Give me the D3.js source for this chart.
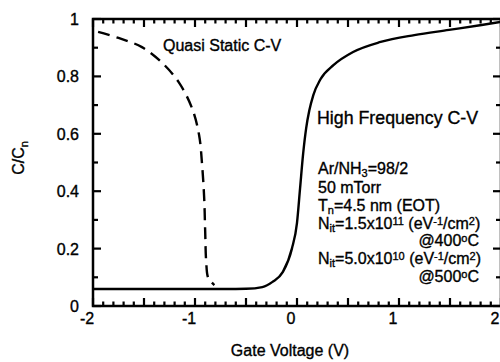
<!DOCTYPE html>
<html>
<head>
<meta charset="utf-8">
<script src="https://cdn.jsdelivr.net/npm/d3@7/dist/d3.min.js"></script>
<style>
  html, body { margin: 0; padding: 0; background: #fff; }
  svg { display: block; font-family: "Liberation Sans", Arial, Helvetica, sans-serif; }
  text { fill: #000; stroke: #000; stroke-width: 0.35px; }
</style>
</head>
<body>
<svg id="chart" width="500" height="362"></svg>
<script>
// High-frequency C-V curve (gate voltage in V, normalized capacitance)
const hfVoltage = [-2.0, -1.5, -1.0, -0.7, -0.5, -0.34, -0.24, -0.14, -0.05, 0.0, 0.03, 0.06, 0.09, 0.12, 0.16, 0.23, 0.36, 0.55, 0.82, 1.15, 1.49, 1.81, 2.0];
const hfCap     = [0.059, 0.059, 0.059, 0.059, 0.060, 0.066, 0.084, 0.118, 0.20, 0.29, 0.41, 0.53, 0.62, 0.68, 0.735, 0.79, 0.84, 0.885, 0.92, 0.944, 0.962, 0.979, 0.99];

// Quasi-static C-V curve
const qsVoltage = [-1.95, -1.75, -1.52, -1.33, -1.16, -1.03, -0.96, -0.93, -0.91, -0.90, -0.89, -0.87, -0.81];
const qsCap     = [0.955, 0.934, 0.902, 0.85, 0.78, 0.69, 0.596, 0.49, 0.376, 0.258, 0.153, 0.098, 0.073];

// Axis ticks
const xTickValues = [-2, -1, 0, 1, 2];
const xTickLabels = ["-2", "-1", "0", "1", "2"];
const yTickValues = [0, 0.2, 0.4, 0.6, 0.8, 1];
const yTickLabels = ["0", "0.2", "0.4", "0.6", "0.8", "1"];

const svg = d3.select("#chart");
const plotL = 93, plotR = 501, plotT = 19, plotB = 306;

const x = d3.scaleLinear().domain([-2, 2]).range([plotL, plotR]);
const y = d3.scaleLinear().domain([0, 1]).range([plotB, plotT]);

// Minor/major tick positions
const xMinor = d3.range(-20, 21).map(d => d / 10);
const yMinor = d3.range(0, 11).map(d => d / 10);
const xLen = v => (Math.abs(v * 2 - Math.round(v * 2)) < 1e-6 ? 8 : 4.5);
const yLen = v => (Math.abs(v * 5 - Math.round(v * 5)) < 1e-6 ? 8 : 5);

// bottom and top ticks pointing inward
svg.append("g").selectAll("line").data(xMinor).join("line")
  .attr("x1", d => x(d)).attr("x2", d => x(d))
  .attr("y1", plotB).attr("y2", d => plotB - xLen(d))
  .attr("stroke", "#000").attr("stroke-width", 2.2);
svg.append("g").selectAll("line").data(xMinor).join("line")
  .attr("x1", d => x(d)).attr("x2", d => x(d))
  .attr("y1", plotT).attr("y2", d => plotT + xLen(d))
  .attr("stroke", "#000").attr("stroke-width", 2.2);
// left and right ticks pointing inward
svg.append("g").selectAll("line").data(yMinor).join("line")
  .attr("y1", d => y(d)).attr("y2", d => y(d))
  .attr("x1", plotL).attr("x2", d => plotL + yLen(d))
  .attr("stroke", "#000").attr("stroke-width", 2.2);
svg.append("g").selectAll("line").data(yMinor).join("line")
  .attr("y1", d => y(d)).attr("y2", d => y(d))
  .attr("x1", plotR).attr("x2", d => plotR - yLen(d))
  .attr("stroke", "#000").attr("stroke-width", 2.2);

// frame
svg.append("rect")
  .attr("x", plotL).attr("y", plotT)
  .attr("width", plotR - plotL).attr("height", plotB - plotT)
  .attr("fill", "none").attr("stroke", "#000").attr("stroke-width", 2.5);

// tick labels
svg.append("g").selectAll("text").data(xTickValues).join("text")
  .attr("x", d => x(d) - 6).attr("y", 324)
  .attr("text-anchor", "middle").attr("font-size", 16)
  .text((d, i) => xTickLabels[i]);

svg.append("g").selectAll("text").data(yTickValues).join("text")
  .attr("x", 79).attr("y", d => y(d) + 6)
  .attr("text-anchor", "end").attr("font-size", 16)
  .text((d, i) => yTickLabels[i]);

// axis titles
svg.append("text").attr("x", 290).attr("y", 356)
  .attr("text-anchor", "middle").attr("font-size", 16).text("Gate Voltage (V)");

const yTitle = svg.append("text")
  .attr("transform", "translate(24,158) rotate(-90)")
  .attr("text-anchor", "middle").attr("font-size", 16);
yTitle.append("tspan").text("C/C");
yTitle.append("tspan").attr("font-size", 11).attr("dy", 4).text("n");

// curves
const hfPath = d3.line().x(d => x(d[0])).y(d => y(d[1])).curve(d3.curveMonotoneX);
const qsPath = d3.line().x(d => x(d[0])).y(d => y(d[1])).curve(d3.curveCatmullRom.alpha(0.5));

svg.append("path")
  .datum(hfVoltage.map((v, i) => [v, hfCap[i]]))
  .attr("d", hfPath).attr("fill", "none").attr("stroke", "#000").attr("stroke-width", 2.4);

svg.append("path")
  .datum(qsVoltage.map((v, i) => [v, qsCap[i]]))
  .attr("d", qsPath).attr("fill", "none").attr("stroke", "#000")
  .attr("stroke-width", 2.4).attr("stroke-dasharray", "12,7");

// curve labels
svg.append("text").attr("x", 163).attr("y", 51).attr("font-size", 16).text("Quasi Static C-V");
svg.append("text").attr("x", 317).attr("y", 124).attr("font-size", 17.8).text("High Frequency C-V");

// process annotations
const fs = 16, sub = 11;
const ann = svg.append("g").attr("font-size", fs);

function addLine(xp, yp, parts, anchor) {
  const t = ann.append("text").attr("x", xp).attr("y", yp).attr("text-anchor", anchor || "start");
  parts.forEach(p => {
    const ts = t.append("tspan").text(p.t);
    if (p.sub) ts.attr("font-size", sub).attr("baseline-shift", "-25%");
    if (p.sup) ts.attr("font-size", sub).attr("baseline-shift", "40%");
  });
}

addLine(318, 174, [{t: "Ar/NH"}, {t: "3", sub: true}, {t: "=98/2"}]);
addLine(318, 193, [{t: "50 mTorr"}]);
addLine(318, 211, [{t: "T"}, {t: "n", sub: true}, {t: "=4.5 nm (EOT)"}]);
addLine(318, 229, [{t: "N"}, {t: "it", sub: true}, {t: "=1.5x10"}, {t: "11", sup: true}, {t: " (eV"}, {t: "-1", sup: true}, {t: "/cm"}, {t: "2", sup: true}, {t: ")"}]);
addLine(479, 246, [{t: "@400"}, {t: "o", sup: true}, {t: "C"}], "end");
addLine(318, 264, [{t: "N"}, {t: "it", sub: true}, {t: "=5.0x10"}, {t: "10", sup: true}, {t: " (eV"}, {t: "-1", sup: true}, {t: "/cm"}, {t: "2", sup: true}, {t: ")"}]);
addLine(479, 282, [{t: "@500"}, {t: "o", sup: true}, {t: "C"}], "end");
</script>
</body>
</html>
